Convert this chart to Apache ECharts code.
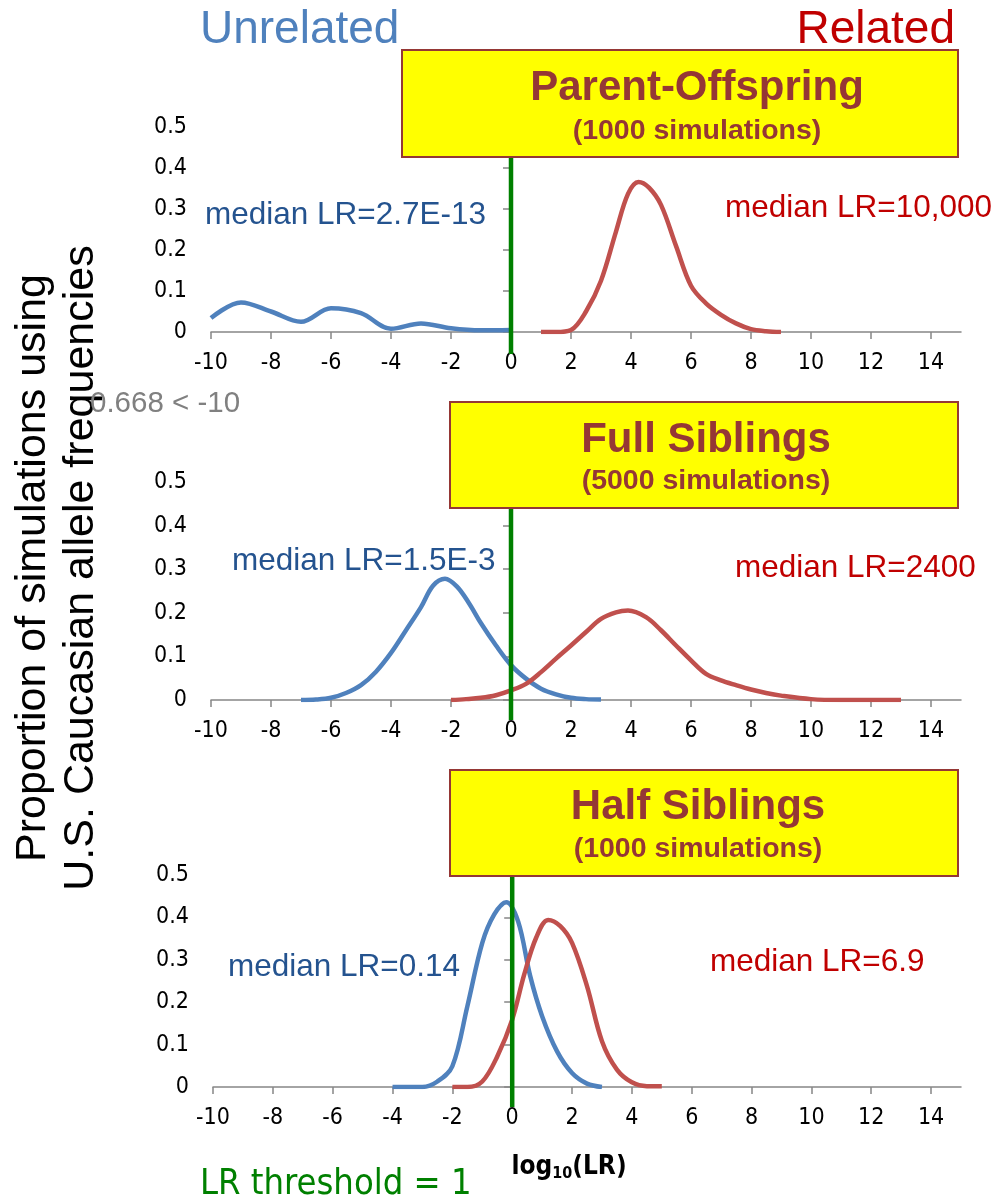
<!DOCTYPE html>
<html>
<head>
<meta charset="utf-8">
<title>LR distributions</title>
<script src="https://cdn.jsdelivr.net/npm/echarts@6/dist/echarts.min.js"></script>
<style>
  html, body { margin: 0; padding: 0; background: #fff; }
  #main { width: 998px; height: 1201px; }
</style>
</head>
<body>
<div id="main"></div>
<script>
// tick values shared by the three x axes
var xTicks = [-10, -8, -6, -4, -2, 0, 2, 4, 6, 8, 10, 12, 14];

// Parent-Offspring
var poBlueX = [-10, -9, -8, -7, -6, -5, -4, -3, -2, -1, 0];
var poBlueY = [0.034, 0.072, 0.05, 0.025, 0.058, 0.046, 0.008, 0.021, 0.009, 0.004, 0.005];
var poRedX = [1, 1.5, 2, 2.5, 3, 3.5, 3.9, 4.25, 4.6, 5, 5.5, 6, 6.5, 7, 7.5, 8, 8.5, 9];
var poRedY = [0, 0, 0.005, 0.05, 0.125, 0.245, 0.337, 0.366, 0.352, 0.31, 0.21, 0.113, 0.07, 0.042, 0.021, 0.007, 0.002, 0];

// Full Siblings
var fsBlueX = [-7, -6.5, -6, -5.5, -5, -4.5, -4, -3.5, -3, -2.6, -2.2, -1.8, -1.4, -1, -0.5, 0, 0.5, 1, 1.5, 2, 2.5, 3];
var fsBlueY = [0, 0.001, 0.005, 0.016, 0.034, 0.065, 0.108, 0.16, 0.213, 0.262, 0.278, 0.26, 0.222, 0.176, 0.125, 0.08, 0.049, 0.026, 0.013, 0.005, 0.002, 0.001];
var fsRedX = [-2, -1.5, -1, -0.5, 0, 0.5, 1, 1.5, 2, 2.5, 3, 3.5, 3.9, 4.5, 5, 5.5, 6, 6.5, 7, 7.5, 8, 8.5, 9, 10, 11, 12, 13];
var fsRedY = [0, 0.002, 0.005, 0.011, 0.022, 0.037, 0.064, 0.095, 0.125, 0.156, 0.186, 0.201, 0.205, 0.19, 0.16, 0.125, 0.091, 0.06, 0.045, 0.034, 0.024, 0.016, 0.01, 0.002, 0, 0, 0];

// Half Siblings
var hsBlueX = [-4, -3.5, -3, -2.5, -2, -1.5, -1, -0.6, -0.2, 0.2, 0.6, 1, 1.5, 2, 2.5, 3];
var hsBlueY = [0, 0, 0, 0.013, 0.049, 0.19, 0.34, 0.407, 0.436, 0.39, 0.262, 0.167, 0.084, 0.033, 0.008, 0];
var hsRedX = [-2, -1.5, -1, -0.5, 0, 0.4, 0.8, 1.2, 1.6, 2, 2.5, 3, 3.5, 4, 4.5, 5];
var hsRedY = [0, 0, 0.013, 0.072, 0.159, 0.265, 0.352, 0.394, 0.38, 0.34, 0.238, 0.108, 0.041, 0.011, 0.002, 0.002];

var NARROW = "'Liberation Sans Narrow','DejaVu Sans Condensed','Arial Narrow',sans-serif";
var ARIAL = "'Liberation Sans',Arial,sans-serif";
var AXIS_GRAY = '#868686';
var BLUE = '#4F81BD', RED = '#C0504D';

function pts(xs, ys) {
    return xs.map(function (x, i) { return [x, ys[i]]; });
}

var grids = [
    {left: 211, top: 127, width: 750, height: 205},
    {left: 211, top: 482, width: 750, height: 218},
    {left: 213, top: 875, width: 748, height: 212}
];

var xAxes = [], yAxes = [];
grids.forEach(function (g, i) {
    g.outerBoundsMode = 'none';
    g.containLabel = false;
    xAxes.push({
        type: 'value', gridIndex: i, min: -10, max: 15, interval: 2,
        axisLine: {show: true, lineStyle: {color: AXIS_GRAY, width: 1.5}},
        axisTick: {show: true, length: 7, customValues: xTicks, lineStyle: {color: AXIS_GRAY, width: 1.5}},
        axisLabel: {customValues: xTicks, color: '#000', fontSize: 23, fontFamily: NARROW, margin: 20},
        splitLine: {show: false}
    });
    yAxes.push({
        type: 'value', gridIndex: i, min: 0, max: 0.5, interval: 0.1,
        axisLine: {show: true, lineStyle: {color: AXIS_GRAY, width: 1.5}},
        axisTick: {show: true, length: 8, lineStyle: {color: AXIS_GRAY, width: 1.5}},
        axisLabel: {color: '#000', fontSize: 23, fontFamily: NARROW, margin: 24},
        splitLine: {show: false}
    });
});

function line(idx, data, color) {
    return {
        type: 'line', xAxisIndex: idx, yAxisIndex: idx, data: data,
        smooth: 0.35, showSymbol: false, silent: true,
        lineStyle: {color: color, width: 4.5}, itemStyle: {color: color}
    };
}

var series = [
    line(0, pts(poBlueX, poBlueY), BLUE),
    line(0, pts(poRedX, poRedY), RED),
    line(1, pts(fsBlueX, fsBlueY), BLUE),
    line(1, pts(fsRedX, fsRedY), RED),
    line(2, pts(hsBlueX, hsBlueY), BLUE),
    line(2, pts(hsRedX, hsRedY), RED)
];

var chart = echarts.init(document.getElementById('main'));
chart.setOption({
    animation: false,
    backgroundColor: '#fff',
    grid: grids,
    xAxis: xAxes,
    yAxis: yAxes,
    series: series
});

function txt(text, x, y, size, color, opts) {
    opts = opts || {};
    return {
        type: 'text', x: x, y: y, z: opts.z || 120, rotation: opts.rotation || 0,
        style: {
            text: text, fill: color,
            font: (opts.bold ? 'bold ' : '') + size + 'px ' + (opts.family || ARIAL),
            align: opts.align || 'left', verticalAlign: 'middle',
            lineHeight: opts.lineHeight
        }
    };
}

function box(x, y, w, h, title, sub, tx, ty, sy) {
    return [
        {type: 'rect', z: 110, shape: {x: x, y: y, width: w, height: h},
         style: {fill: '#FFFF00', stroke: '#953735', lineWidth: 2}},
        txt(title, tx, ty, 42, '#953735', {bold: true, align: 'center'}),
        txt(sub, tx, sy, 28.5, '#953735', {bold: true, align: 'center'})
    ];
}

// green threshold line at log10(LR) = 0, one piece per panel
var gx = [0, 1, 2].map(function (i) {
    return chart.convertToPixel({xAxisIndex: i}, 0);
});
var greenSpans = [[50, 354], [402, 720], [770, 1107]];
var graphics = greenSpans.map(function (s, i) {
    return {type: 'line', z: 100, shape: {x1: gx[i], y1: s[0], x2: gx[i], y2: s[1]},
            style: {stroke: '#008000', lineWidth: 4.5}};
});

graphics = graphics
    .concat(box(402, 50, 556, 107, 'Parent-Offspring', '(1000 simulations)', 697, 88, 131))
    .concat(box(450, 402, 508, 106, 'Full Siblings', '(5000 simulations)', 706, 440, 481))
    .concat(box(450, 770, 508, 106, 'Half Siblings', '(1000 simulations)', 698, 807, 849))
    .concat([
        txt('Unrelated', 200, 30, 46, BLUE),
        txt('Related', 955, 30, 46, '#C00000', {align: 'right'}),
        txt('Proportion of simulations using\nU.S. Caucasian allele frequencies', 57, 568, 43, '#000',
            {align: 'center', rotation: Math.PI / 2, lineHeight: 48}),
        txt('0.668 < -10', 90, 404, 29.5, '#808080'),
        txt('median LR=2.7E-13', 205, 215, 31.5, '#24538F'),
        txt('median LR=10,000', 725, 208, 31.5, '#C00000'),
        txt('median LR=1.5E-3', 232, 561, 31.5, '#24538F'),
        txt('median LR=2400', 735, 568, 31.5, '#C00000'),
        txt('median LR=0.14', 228, 967, 31.5, '#24538F'),
        txt('median LR=6.9', 710, 962, 31.5, '#C00000'),
        txt('LR threshold = 1', 200, 1185, 36, '#008000', {family: NARROW}),
        {
            type: 'text', x: 569, y: 1167, z: 120,
            style: {
                text: '{b|log}{s|10}{b|(LR)}', align: 'center', verticalAlign: 'middle',
                rich: {
                    b: {font: 'bold 26px ' + NARROW, fill: '#000', lineHeight: 30},
                    s: {font: 'bold 16px ' + NARROW, fill: '#000', lineHeight: 14, verticalAlign: 'bottom'}
                }
            }
        }
    ]);

chart.setOption({graphic: graphics});
</script>
</body>
</html>
